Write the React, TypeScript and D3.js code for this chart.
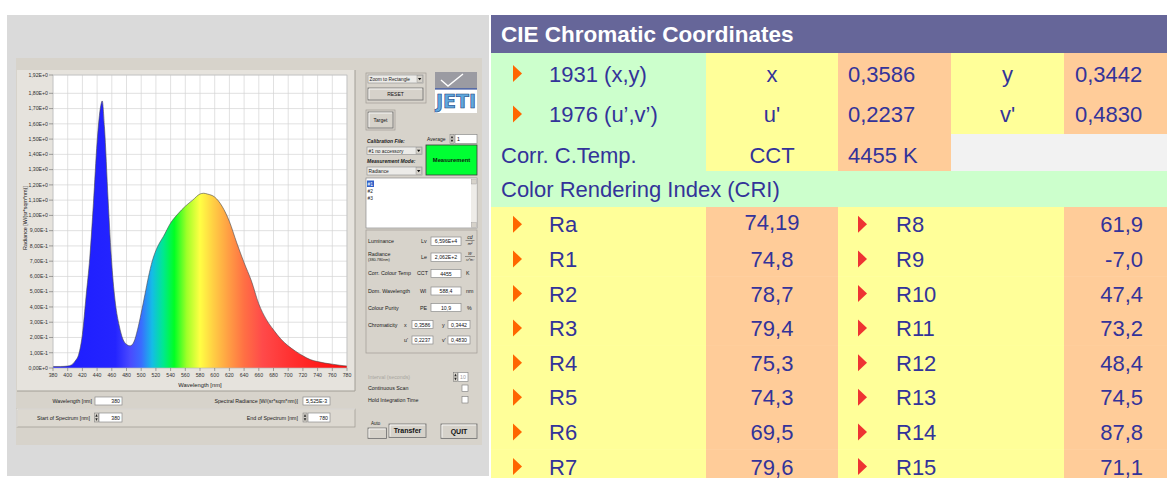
import * as d3 from 'd3';

// spectrum (nm, W/(sr*sqm*nm))
const wavelengths = [380, 390, 400, 405, 410, 415, 420, 425, 430, 435, 440, 445, 447, 450, 455, 460, 465, 470, 475, 480, 485, 490, 495, 500, 505, 510, 515, 520, 525, 530, 540, 550, 560, 570, 580, 585, 590, 600, 610, 620, 630, 640, 650, 660, 670, 680, 690, 700, 710, 720, 730, 740, 750, 760, 770, 780];
const radiance = [0.010, 0.010, 0.013, 0.02, 0.045, 0.09, 0.22, 0.47, 0.72, 1.08, 1.48, 1.72, 1.75, 1.58, 1.1, 0.68, 0.42, 0.28, 0.19, 0.155, 0.145, 0.17, 0.25, 0.36, 0.48, 0.6, 0.7, 0.77, 0.82, 0.86, 0.95, 1.01, 1.06, 1.1, 1.14, 1.145, 1.14, 1.12, 1.06, 0.96, 0.82, 0.69, 0.57, 0.42, 0.32, 0.25, 0.19, 0.145, 0.11, 0.08, 0.055, 0.042, 0.032, 0.025, 0.018, 0.013];

const xTicks = [380, 400, 420, 440, 460, 480, 500, 520, 540, 560, 580, 600, 620, 640, 660, 680, 700, 720, 740, 760, 780];
const yTicks = [0, 0.1, 0.2, 0.3, 0.4, 0.5, 0.6, 0.7, 0.8, 0.9, 1.0, 1.1, 1.2, 1.3, 1.4, 1.5, 1.6, 1.7, 1.8, 1.92];

// CIE table
const chromaLabels = ['1931 (x,y)', '1976 (u\u2019,v\u2019)'];
const chromaKeys1 = ['x', "u'"];
const chromaVals1 = ['0,3586', '0,2237'];
const chromaKeys2 = ['y', "v'"];
const chromaVals2 = ['0,3442', '0,4830'];
const cctValue = '4455 K';

const criLeftNames = ['Ra', 'R1', 'R2', 'R3', 'R4', 'R5', 'R6', 'R7'];
const criLeftVals = [74.19, 74.8, 78.7, 79.4, 75.3, 74.3, 69.5, 79.6];
const criRightNames = ['R8', 'R9', 'R10', 'R11', 'R12', 'R13', 'R14', 'R15'];
const criRightVals = [61.9, -7.0, 47.4, 73.2, 48.4, 74.5, 87.8, 71.1];

const gradStops: [number, string][] = [
  [380, '#1c1cff'], [465, '#2424ff'], [485, '#4a4aff'], [500, '#3a6cff'], [515, '#14bde6'],
  [530, '#00e890'], [545, '#00ff24'], [562, '#a0ff28'], [580, '#ffff44'], [598, '#ffcf44'],
  [618, '#ffa044'], [640, '#ff7044'], [665, '#ff4a4a'], [705, '#ff3030'], [745, '#ff1a1a'], [780, '#ff0a0a'],
];

const UI = "'Liberation Sans', Arial, sans-serif";
const TXT = '#333399';

const fmtE = (d: number) => {
  if (d === 0) return '0,00E+0';
  const e = Math.floor(Math.log10(d) + 1e-9);
  const m = d / Math.pow(10, e);
  return m.toFixed(2).replace('.', ',') + 'E' + (e >= 0 ? '+' : '') + e;
};
const fmtC = (v: number, n: number) => v.toFixed(n).replace('.', ',');

function Input({ x, y, w, h, text, anchor = 'middle', color = '#111' }: any) {
  const tx = anchor === 'end' ? x + w - 2 : anchor === 'start' ? x + 2 : x + w / 2;
  return (
    <g>
      <rect x={x} y={y} width={w} height={h} fill="#fff" stroke="#8c8c8c" strokeWidth={0.7} />
      {text != null && (
        <text x={tx} y={y + h / 2 + 2} fontSize={5.2} textAnchor={anchor} fill={color} fontFamily={UI}>{text}</text>
      )}
    </g>
  );
}

function Button({ x, y, w, h, text, bold = false, size = 5.5 }: any) {
  return (
    <g>
      <rect x={x} y={y} width={w} height={h} fill="#d6d2ca" stroke="#6e6e6e" strokeWidth={0.8} />
      <path d={`M${x + 1},${y + h - 1}V${y + 1}H${x + w - 1}`} fill="none" stroke="#fff" strokeWidth={0.8} />
      {text && (
        <text x={x + w / 2} y={y + h / 2 + size * 0.36} fontSize={size} textAnchor="middle" fontWeight={bold ? 'bold' : 'normal'} fill="#111" fontFamily={UI}>{text}</text>
      )}
    </g>
  );
}

function Spinner({ x, y, h }: any) {
  return (
    <g>
      <rect x={x} y={y} width={4} height={h} fill="#d6d2ca" stroke="#777" strokeWidth={0.5} />
      <path d={`M${x + 0.8},${y + h / 2 - 0.8}L${x + 2},${y + 1}L${x + 3.2},${y + h / 2 - 0.8}Z`} fill="#222" />
      <path d={`M${x + 0.8},${y + h / 2 + 0.8}L${x + 2},${y + h - 1}L${x + 3.2},${y + h / 2 + 0.8}Z`} fill="#222" />
    </g>
  );
}

function Dropdown({ x, y, w, h, text }: any) {
  return (
    <g>
      <rect x={x} y={y} width={w} height={h} fill="#ecebe8" stroke="#8c8c8c" strokeWidth={0.6} />
      <text x={x + 1.5} y={y + h / 2 + 1.8} fontSize={4.8} fill="#222" fontFamily={UI}>{text}</text>
      <rect x={x + w - 6} y={y + 0.6} width={5.4} height={h - 1.2} fill="#d6d2ca" stroke="#888" strokeWidth={0.4} />
      <path d={`M${x + w - 5},${y + h / 2 - 1}h3.4l-1.7,2.2z`} fill="#111" />
    </g>
  );
}

function Label({ x, y, text, size = 5.3, anchor = 'start', color = '#1a1a1a', weight = 'normal', italic = false }: any) {
  return (
    <text x={x} y={y} fontSize={size} textAnchor={anchor} fill={color} fontWeight={weight} fontStyle={italic ? 'italic' : 'normal'} fontFamily={UI}>{text}</text>
  );
}

function Arrow({ x, cy, color }: any) {
  return <path d={`M${x},${cy - 8.5}L${x + 9},${cy}L${x},${cy + 8.5}Z`} fill={color} />;
}

function Spectrum() {
  const x = d3.scaleLinear().domain([380, 780]).range([53, 347]);
  const y = d3.scaleLinear().domain([0, 1.92]).range([368, 75]);
  const pts = wavelengths.map((w, i) => ({ w, v: radiance[i] }));
  const area = d3.area<any>().x(d => x(d.w)).y0(y(0)).y1(d => y(d.v)).curve(d3.curveMonotoneX);
  const line = d3.line<any>().x(d => x(d.w)).y(d => y(d.v)).curve(d3.curveMonotoneX);
  return (
    <g>
      {/* chart panel */}
      <rect x={17} y={70} width={338} height={321} fill="#e6e3dd" />
      <path d="M355,70V391H17" fill="none" stroke="#a29e96" strokeWidth={1} />
      <rect x={53} y={75} width={294} height={293} fill="#fff" />
      <defs>
        <linearGradient id="spec" gradientUnits="userSpaceOnUse" x1={x(380)} x2={x(780)} y1={0} y2={0}>
          {gradStops.map(([w, c]) => (
            <stop key={w} offset={(w - 380) / 400} stopColor={c} />
          ))}
        </linearGradient>
      </defs>
      {xTicks.map(t => (
        <line key={'gx' + t} x1={x(t)} x2={x(t)} y1={y(1.92)} y2={y(0)} stroke="#d4d4d4" strokeWidth={0.7} />
      ))}
      {yTicks.map(t => (
        <line key={'gy' + t} x1={x(380)} x2={x(780)} y1={y(t)} y2={y(t)} stroke="#d4d4d4" strokeWidth={0.7} />
      ))}
      <path d={area(pts) || ''} fill="url(#spec)" />
      <path d={line(pts) || ''} fill="none" stroke="#4a4a4a" strokeWidth={0.6} />
      <rect x={53} y={75} width={294} height={293} fill="none" stroke="#b8b8b8" strokeWidth={0.6} />
      {yTicks.map(t => (
        <g key={'ty' + t}>
          <line x1={x(380) - 4} x2={x(380)} y1={y(t)} y2={y(t)} stroke="#555" strokeWidth={0.5} />
          <text x={x(380) - 5} y={y(t) + 1.8} fontSize={5.2} textAnchor="end" fill="#333" fontFamily={UI}>{fmtE(t)}</text>
        </g>
      ))}
      {xTicks.map(t => (
        <g key={'tx' + t}>
          <line x1={x(t)} x2={x(t)} y1={y(0)} y2={y(0) + 3} stroke="#555" strokeWidth={0.5} />
          <text x={x(t)} y={y(0) + 9} fontSize={5.2} textAnchor="middle" fill="#333" fontFamily={UI}>{t}</text>
        </g>
      ))}
      <text x={200} y={387} fontSize={5.8} textAnchor="middle" fill="#222" fontFamily={UI}>Wavelength [nm]</text>
      <text transform="translate(27,218) rotate(-90)" fontSize={5.4} textAnchor="middle" fill="#222" fontFamily={UI}>Radiance [W/(sr*sqm*nm)]</text>
    </g>
  );
}

function Instrument() {
  return (
    <g>
      <rect x={7} y={15} width={482} height={461} fill="#dadada" />
      <rect x={16} y={58} width={466} height={387} fill="#d7d3cb" />
      <Spectrum />

      {/* bottom fields */}
      <Label x={92} y={402.5} text="Wavelength [nm]" anchor="end" />
      <Input x={95} y={397} w={27} h={8} text="380" anchor="end" />
      <Label x={298} y={402.5} text="Spectral Radiance [W/(sr*sqm*nm)]" anchor="end" />
      <Input x={303} y={397} w={27} h={8} text="5,525E-3" />
      <rect x={17} y={409} width={338} height={18} fill="#dcd8d0" stroke="#9c988f" strokeWidth={0.7} />
      <path d="M17,427V409H355" fill="none" stroke="#fff" strokeWidth={0.7} />
      <Label x={90} y={419.5} text="Start of Spectrum [nm]" anchor="end" />
      <Spinner x={94.5} y={413} h={9} />
      <Input x={99} y={413} w={23} h={9} text="380" anchor="end" />
      <Label x={298} y={419.5} text="End of Spectrum [nm]" anchor="end" />
      <Spinner x={303} y={413} h={9} />
      <Input x={308} y={413} w={22} h={9} text="780" anchor="end" />

      {/* top right controls */}
      <rect x={366} y={73} width={60} height={30} fill="none" stroke="#a09c95" strokeWidth={0.7} />
      <Dropdown x={368} y={75} w={55} h={8} text="Zoom to Rectangle" />
      <Button x={368} y={88} w={55} h={12} text="RESET" size={5} />

      <rect x={435} y={72} width={42} height={16} fill="#9b9ba2" />
      <path d="M441,80L448,86L463,74" fill="none" stroke="#fff" strokeWidth={1.4} />
      <rect x={435} y={88} width={42} height={25} fill="#fff" />
      <line x1={435} x2={477} y1={88.8} y2={88.8} stroke="#1f3a8a" strokeWidth={1.2} />
      <text x={456} y={108} fontSize={19} fontWeight="bold" textAnchor="middle" textLength={40} lengthAdjust="spacingAndGlyphs" fill="#5fa8de" stroke="#1b3b7a" strokeWidth={0.6} fontFamily="'DejaVu Sans', sans-serif">JETI</text>

      <rect x={366} y={110} width={29} height={20} fill="none" stroke="#a09c95" strokeWidth={0.7} />
      <Button x={368} y={112} w={25} h={16} text="Target" size={5} />

      <Label x={367} y={143} text="Calibration File:" weight="bold" italic size={5} />
      <Label x={427} y={140.5} text="Average" size={5} />
      <Spinner x={450} y={134.5} h={9} />
      <Input x={455} y={134.5} w={22} h={9} text="1" anchor="start" />
      <Dropdown x={367} y={147} w={55} h={7.5} text="#1  no accessory" />
      <Label x={367} y={163} text="Measurement Mode:" weight="bold" italic size={5} />
      <Dropdown x={367} y={167} w={55} h={8} text="Radiance" />
      <rect x={426} y={145} width={51} height={30} fill="#00ff33" stroke="#3a3a3a" strokeWidth={0.8} />
      <Label x={451.5} y={162} text="Measurement" anchor="middle" weight="bold" size={5.8} color="#102010" />

      <rect x={366} y={178} width={111} height={50} fill="#fff" stroke="#8c8c8c" strokeWidth={0.7} />
      <rect x={471} y={178.5} width={5.5} height={49} fill="#eeece8" />
      <rect x={471.3} y={179} width={5} height={5} fill="#d6d2ca" stroke="#888" strokeWidth={0.3} />
      <rect x={471.3} y={222.5} width={5} height={5} fill="#d6d2ca" stroke="#888" strokeWidth={0.3} />
      <rect x={367} y={180.5} width={7} height={6.5} fill="#3060c8" />
      <Label x={367.6} y={185.6} text="#1" size={4.8} color="#fff" />
      <Label x={367.6} y={193} text="#2" size={4.8} />
      <Label x={367.6} y={200.4} text="#3" size={4.8} />

      {/* results group */}
      <rect x={366} y={230} width={111} height={123} fill="none" stroke="#a09c95" strokeWidth={0.7} />
      <Label x={368} y={243} text="Luminance" />
      <Label x={421} y={243} text="Lv" />
      <Input x={431} y={237} w={30} h={8.5} text="6,596E+4" />
      <Label x={470} y={238.5} text="cd" anchor="middle" italic size={5} />
      <line x1={465.5} x2={474.5} y1={240.5} y2={240.5} stroke="#222" strokeWidth={0.4} />
      <Label x={470} y={245} text="m²" anchor="middle" italic size={4} />

      <Label x={368} y={256} text="Radiance" />
      <Label x={368} y={261} text="(380-780nm)" size={3.8} />
      <Label x={421} y={259} text="Le" />
      <Input x={431} y={253} w={30} h={8.5} text="2,062E+2" />
      <Label x={470} y={255} text="W" anchor="middle" italic size={4} />
      <line x1={465} x2={475} y1={256.5} y2={256.5} stroke="#222" strokeWidth={0.4} />
      <Label x={470} y={261} text="sr*m²" anchor="middle" italic size={3.4} />

      <Label x={368} y={275.3} text="Corr. Colour Temp" />
      <Label x={417} y={275.3} text="CCT" />
      <Input x={431} y={269.5} w={30} h={8} text="4455" />
      <Label x={466} y={275.3} text="K" />

      <Label x={368} y={293} text="Dom. Wavelength" />
      <Label x={420} y={293} text="Wl" />
      <Input x={431} y={287} w={30} h={8} text="588,4" />
      <Label x={466} y={293} text="nm" />

      <Label x={368} y={309.5} text="Colour Purity" />
      <Label x={420} y={309.5} text="PE" />
      <Input x={431} y={303.5} w={30} h={8} text="10,9" />
      <Label x={467} y={309.5} text="%" />

      <Label x={368} y={326.5} text="Chromaticity" />
      <Label x={404} y={326.5} text="x" />
      <Input x={412} y={320.5} w={21} h={8} text="0,3586" />
      <Label x={442} y={327} text="y" />
      <Input x={448} y={320.5} w={22} h={8} text="0,3442" />

      <Label x={404} y={342} text="u'" />
      <Input x={412} y={336} w={21} h={8} text="0,2237" />
      <Label x={442} y={342} text="v'" />
      <Input x={448} y={336} w={22} h={8} text="0,4830" />

      <Label x={368} y={378.5} text="Interval  (seconds)" color="#a8a6a0" />
      <Spinner x={453.5} y={372.5} h={9} />
      <Input x={458} y={372.5} w={10} h={9} text="10" anchor="start" color="#a0a0a0" />
      <Label x={368} y={390.3} text="Continuous Scan" />
      <rect x={462} y={385} width={6} height={6.5} fill="#fff" stroke="#777" strokeWidth={0.6} />
      <Label x={368} y={402} text="Hold Integration Time" />
      <rect x={462} y={396.5} width={6} height={6.5} fill="#fff" stroke="#777" strokeWidth={0.6} />

      <Label x={371} y={424.5} text="Auto" size={4.5} />
      <Button x={368} y={428} w={18.5} h={10.5} />
      <Button x={389} y={424} w={37} h={13.5} text="Transfer" bold size={7} />
      <Button x={441} y={424} w={36} h={14.5} text="QUIT" bold size={7} />
    </g>
  );
}

function CieTable() {
  const x0 = 491;
  const cols = [491, 706, 838, 951, 1064, 1167];
  const green = '#ccffcc';
  const yellow = '#ffff99';
  const orange = '#ffcc99';
  const rowTop = [53, 94, 134, 171, 207];
  const criY = d3.scaleBand<string>().domain(criLeftNames).range([207, 207 + 34.6 * criLeftNames.length]);
  const fs = 22;
  return (
    <g fontFamily={UI} fontSize={fs} fill={TXT}>
      <rect x={x0} y={15} width={676} height={38} fill="#666699" />
      <text x={501} y={42} fontWeight="bold" fill="#fff" fontSize={22.5}>CIE Chromatic Coordinates</text>

      {chromaLabels.map((lab, i) => {
        const t = rowTop[i], b = rowTop[i + 1], cy = (t + b) / 2;
        return (
          <g key={lab}>
            <rect x={cols[0]} y={t} width={cols[1] - cols[0]} height={b - t} fill={green} />
            <rect x={cols[1]} y={t} width={cols[2] - cols[1]} height={b - t} fill={yellow} />
            <rect x={cols[2]} y={t} width={cols[3] - cols[2]} height={b - t} fill={orange} />
            <rect x={cols[3]} y={t} width={cols[4] - cols[3]} height={b - t} fill={yellow} />
            <rect x={cols[4]} y={t} width={cols[5] - cols[4]} height={b - t} fill={orange} />
            <Arrow x={513} cy={cy} color="#ff6600" />
            <text x={549} y={cy + 8}>{lab}</text>
            <text x={(cols[1] + cols[2]) / 2} y={cy + 8} textAnchor="middle">{chromaKeys1[i]}</text>
            <text x={848} y={cy + 8}>{chromaVals1[i]}</text>
            <text x={(cols[3] + cols[4]) / 2} y={cy + 8} textAnchor="middle">{chromaKeys2[i]}</text>
            <text x={1075} y={cy + 8}>{chromaVals2[i]}</text>
          </g>
        );
      })}

      <rect x={cols[0]} y={134} width={cols[1] - cols[0]} height={37} fill={green} />
      <rect x={cols[1]} y={134} width={cols[2] - cols[1]} height={37} fill={yellow} />
      <rect x={cols[2]} y={134} width={cols[3] - cols[2]} height={37} fill={orange} />
      <rect x={cols[3]} y={134} width={cols[5] - cols[3]} height={37} fill="#f2f2f2" />
      <text x={501} y={163}>Corr. C.Temp.</text>
      <text x={(cols[1] + cols[2]) / 2} y={163} textAnchor="middle">CCT</text>
      <text x={848} y={163}>{cctValue}</text>

      <rect x={cols[0]} y={171} width={676} height={36} fill={green} />
      <text x={501} y={197}>Color Rendering Index (CRI)</text>

      {criLeftNames.map((name, i) => {
        const t = criY(name) as number, h = criY.bandwidth(), cy = t + h / 2;
        return (
          <g key={name}>
            <rect x={cols[0]} y={t} width={cols[1] - cols[0]} height={h + 0.5} fill={yellow} />
            <rect x={cols[1]} y={t} width={cols[2] - cols[1]} height={h + 0.5} fill={orange} />
            <rect x={cols[2]} y={t} width={cols[4] - cols[2]} height={h + 0.5} fill={yellow} />
            <rect x={cols[4]} y={t} width={cols[5] - cols[4]} height={h + 0.5} fill={orange} />
            <Arrow x={513} cy={cy} color="#ff6600" />
            <text x={549} y={cy + 8}>{name}</text>
            <text x={(cols[1] + cols[2]) / 2} y={cy + (i === 0 ? 6 : 8)} textAnchor="middle">{fmtC(criLeftVals[i], i === 0 ? 2 : 1)}</text>
            <Arrow x={858} cy={cy} color="#ee3333" />
            <text x={896} y={cy + 8}>{criRightNames[i]}</text>
            <text x={1143} y={cy + 8} textAnchor="end">{fmtC(criRightVals[i], 1)}</text>
          </g>
        );
      })}
    </g>
  );
}

export default function App() {
  return (
    <div style={{ position: 'absolute', left: 0, top: 0 }}>
      <svg width={1167} height={478} style={{ display: 'block', background: '#fff' }}>
        <Instrument />
        <CieTable />
      </svg>
    </div>
  );
}
